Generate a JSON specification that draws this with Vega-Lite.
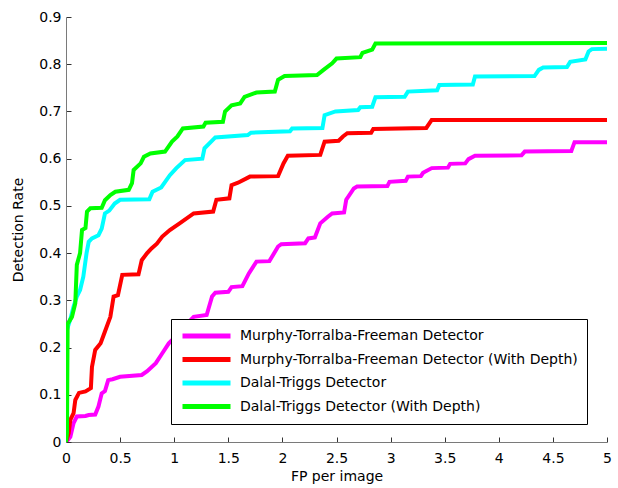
{
  "$schema": "https://vega.github.io/schema/vega-lite/v6.json",
  "width": 541,
  "height": 425,
  "autosize": "none",
  "padding": {"left": 66, "top": 17, "right": 11, "bottom": 46},
  "background": "white",
  "config": {
    "view": {"stroke": null},
    "font": "DejaVu Sans"
  },
  "datasets": {
    "curves": [
      {"s": "Murphy-Torralba-Freeman Detector", "x": 0, "y": 0},
      {"s": "Murphy-Torralba-Freeman Detector", "x": 0.02, "y": 0.005},
      {"s": "Murphy-Torralba-Freeman Detector", "x": 0.04, "y": 0.011},
      {"s": "Murphy-Torralba-Freeman Detector", "x": 0.07, "y": 0.04},
      {"s": "Murphy-Torralba-Freeman Detector", "x": 0.10, "y": 0.054},
      {"s": "Murphy-Torralba-Freeman Detector", "x": 0.18, "y": 0.055},
      {"s": "Murphy-Torralba-Freeman Detector", "x": 0.21, "y": 0.057},
      {"s": "Murphy-Torralba-Freeman Detector", "x": 0.27, "y": 0.058},
      {"s": "Murphy-Torralba-Freeman Detector", "x": 0.30, "y": 0.075},
      {"s": "Murphy-Torralba-Freeman Detector", "x": 0.33, "y": 0.103},
      {"s": "Murphy-Torralba-Freeman Detector", "x": 0.36, "y": 0.108},
      {"s": "Murphy-Torralba-Freeman Detector", "x": 0.39, "y": 0.131},
      {"s": "Murphy-Torralba-Freeman Detector", "x": 0.43, "y": 0.133},
      {"s": "Murphy-Torralba-Freeman Detector", "x": 0.50, "y": 0.138},
      {"s": "Murphy-Torralba-Freeman Detector", "x": 0.70, "y": 0.142},
      {"s": "Murphy-Torralba-Freeman Detector", "x": 0.75, "y": 0.15},
      {"s": "Murphy-Torralba-Freeman Detector", "x": 0.83, "y": 0.167},
      {"s": "Murphy-Torralba-Freeman Detector", "x": 0.89, "y": 0.188},
      {"s": "Murphy-Torralba-Freeman Detector", "x": 0.95, "y": 0.209},
      {"s": "Murphy-Torralba-Freeman Detector", "x": 1.0, "y": 0.22},
      {"s": "Murphy-Torralba-Freeman Detector", "x": 1.08, "y": 0.235},
      {"s": "Murphy-Torralba-Freeman Detector", "x": 1.15, "y": 0.258},
      {"s": "Murphy-Torralba-Freeman Detector", "x": 1.18, "y": 0.265},
      {"s": "Murphy-Torralba-Freeman Detector", "x": 1.30, "y": 0.269},
      {"s": "Murphy-Torralba-Freeman Detector", "x": 1.35, "y": 0.308},
      {"s": "Murphy-Torralba-Freeman Detector", "x": 1.38, "y": 0.316},
      {"s": "Murphy-Torralba-Freeman Detector", "x": 1.50, "y": 0.318},
      {"s": "Murphy-Torralba-Freeman Detector", "x": 1.53, "y": 0.328},
      {"s": "Murphy-Torralba-Freeman Detector", "x": 1.63, "y": 0.33},
      {"s": "Murphy-Torralba-Freeman Detector", "x": 1.69, "y": 0.357},
      {"s": "Murphy-Torralba-Freeman Detector", "x": 1.76, "y": 0.382},
      {"s": "Murphy-Torralba-Freeman Detector", "x": 1.88, "y": 0.383},
      {"s": "Murphy-Torralba-Freeman Detector", "x": 1.96, "y": 0.414},
      {"s": "Murphy-Torralba-Freeman Detector", "x": 1.99, "y": 0.419},
      {"s": "Murphy-Torralba-Freeman Detector", "x": 2.21, "y": 0.421},
      {"s": "Murphy-Torralba-Freeman Detector", "x": 2.24, "y": 0.431},
      {"s": "Murphy-Torralba-Freeman Detector", "x": 2.30, "y": 0.433},
      {"s": "Murphy-Torralba-Freeman Detector", "x": 2.35, "y": 0.463},
      {"s": "Murphy-Torralba-Freeman Detector", "x": 2.42, "y": 0.477},
      {"s": "Murphy-Torralba-Freeman Detector", "x": 2.46, "y": 0.484},
      {"s": "Murphy-Torralba-Freeman Detector", "x": 2.57, "y": 0.486},
      {"s": "Murphy-Torralba-Freeman Detector", "x": 2.59, "y": 0.513},
      {"s": "Murphy-Torralba-Freeman Detector", "x": 2.66, "y": 0.537},
      {"s": "Murphy-Torralba-Freeman Detector", "x": 2.69, "y": 0.541},
      {"s": "Murphy-Torralba-Freeman Detector", "x": 2.97, "y": 0.542},
      {"s": "Murphy-Torralba-Freeman Detector", "x": 2.99, "y": 0.551},
      {"s": "Murphy-Torralba-Freeman Detector", "x": 3.14, "y": 0.553},
      {"s": "Murphy-Torralba-Freeman Detector", "x": 3.16, "y": 0.562},
      {"s": "Murphy-Torralba-Freeman Detector", "x": 3.28, "y": 0.563},
      {"s": "Murphy-Torralba-Freeman Detector", "x": 3.30, "y": 0.570},
      {"s": "Murphy-Torralba-Freeman Detector", "x": 3.38, "y": 0.58},
      {"s": "Murphy-Torralba-Freeman Detector", "x": 3.53, "y": 0.581},
      {"s": "Murphy-Torralba-Freeman Detector", "x": 3.55, "y": 0.589},
      {"s": "Murphy-Torralba-Freeman Detector", "x": 3.69, "y": 0.59},
      {"s": "Murphy-Torralba-Freeman Detector", "x": 3.72, "y": 0.599},
      {"s": "Murphy-Torralba-Freeman Detector", "x": 3.78, "y": 0.606},
      {"s": "Murphy-Torralba-Freeman Detector", "x": 4.21, "y": 0.607},
      {"s": "Murphy-Torralba-Freeman Detector", "x": 4.24, "y": 0.615},
      {"s": "Murphy-Torralba-Freeman Detector", "x": 4.67, "y": 0.616},
      {"s": "Murphy-Torralba-Freeman Detector", "x": 4.70, "y": 0.635},
      {"s": "Murphy-Torralba-Freeman Detector", "x": 5, "y": 0.635},

      {"s": "Murphy-Torralba-Freeman Detector (With Depth)", "x": 0, "y": 0},
      {"s": "Murphy-Torralba-Freeman Detector (With Depth)", "x": 0.025, "y": 0.019},
      {"s": "Murphy-Torralba-Freeman Detector (With Depth)", "x": 0.04, "y": 0.047},
      {"s": "Murphy-Torralba-Freeman Detector (With Depth)", "x": 0.07, "y": 0.061},
      {"s": "Murphy-Torralba-Freeman Detector (With Depth)", "x": 0.086, "y": 0.089},
      {"s": "Murphy-Torralba-Freeman Detector (With Depth)", "x": 0.12, "y": 0.104},
      {"s": "Murphy-Torralba-Freeman Detector (With Depth)", "x": 0.18, "y": 0.107},
      {"s": "Murphy-Torralba-Freeman Detector (With Depth)", "x": 0.23, "y": 0.114},
      {"s": "Murphy-Torralba-Freeman Detector (With Depth)", "x": 0.24, "y": 0.159},
      {"s": "Murphy-Torralba-Freeman Detector (With Depth)", "x": 0.27, "y": 0.195},
      {"s": "Murphy-Torralba-Freeman Detector (With Depth)", "x": 0.32, "y": 0.209},
      {"s": "Murphy-Torralba-Freeman Detector (With Depth)", "x": 0.36, "y": 0.234},
      {"s": "Murphy-Torralba-Freeman Detector (With Depth)", "x": 0.41, "y": 0.265},
      {"s": "Murphy-Torralba-Freeman Detector (With Depth)", "x": 0.44, "y": 0.308},
      {"s": "Murphy-Torralba-Freeman Detector (With Depth)", "x": 0.48, "y": 0.311},
      {"s": "Murphy-Torralba-Freeman Detector (With Depth)", "x": 0.52, "y": 0.354},
      {"s": "Murphy-Torralba-Freeman Detector (With Depth)", "x": 0.67, "y": 0.355},
      {"s": "Murphy-Torralba-Freeman Detector (With Depth)", "x": 0.70, "y": 0.385},
      {"s": "Murphy-Torralba-Freeman Detector (With Depth)", "x": 0.75, "y": 0.40},
      {"s": "Murphy-Torralba-Freeman Detector (With Depth)", "x": 0.79, "y": 0.41},
      {"s": "Murphy-Torralba-Freeman Detector (With Depth)", "x": 0.84, "y": 0.42},
      {"s": "Murphy-Torralba-Freeman Detector (With Depth)", "x": 0.89, "y": 0.435},
      {"s": "Murphy-Torralba-Freeman Detector (With Depth)", "x": 0.96, "y": 0.449},
      {"s": "Murphy-Torralba-Freeman Detector (With Depth)", "x": 1.05, "y": 0.463},
      {"s": "Murphy-Torralba-Freeman Detector (With Depth)", "x": 1.18, "y": 0.484},
      {"s": "Murphy-Torralba-Freeman Detector (With Depth)", "x": 1.36, "y": 0.488},
      {"s": "Murphy-Torralba-Freeman Detector (With Depth)", "x": 1.39, "y": 0.513},
      {"s": "Murphy-Torralba-Freeman Detector (With Depth)", "x": 1.51, "y": 0.516},
      {"s": "Murphy-Torralba-Freeman Detector (With Depth)", "x": 1.53, "y": 0.544},
      {"s": "Murphy-Torralba-Freeman Detector (With Depth)", "x": 1.59, "y": 0.549},
      {"s": "Murphy-Torralba-Freeman Detector (With Depth)", "x": 1.70, "y": 0.562},
      {"s": "Murphy-Torralba-Freeman Detector (With Depth)", "x": 1.96, "y": 0.563},
      {"s": "Murphy-Torralba-Freeman Detector (With Depth)", "x": 2.01, "y": 0.59},
      {"s": "Murphy-Torralba-Freeman Detector (With Depth)", "x": 2.05, "y": 0.606},
      {"s": "Murphy-Torralba-Freeman Detector (With Depth)", "x": 2.35, "y": 0.608},
      {"s": "Murphy-Torralba-Freeman Detector (With Depth)", "x": 2.39, "y": 0.636},
      {"s": "Murphy-Torralba-Freeman Detector (With Depth)", "x": 2.52, "y": 0.638},
      {"s": "Murphy-Torralba-Freeman Detector (With Depth)", "x": 2.56, "y": 0.647},
      {"s": "Murphy-Torralba-Freeman Detector (With Depth)", "x": 2.60, "y": 0.654},
      {"s": "Murphy-Torralba-Freeman Detector (With Depth)", "x": 2.82, "y": 0.655},
      {"s": "Murphy-Torralba-Freeman Detector (With Depth)", "x": 2.84, "y": 0.663},
      {"s": "Murphy-Torralba-Freeman Detector (With Depth)", "x": 3.33, "y": 0.665},
      {"s": "Murphy-Torralba-Freeman Detector (With Depth)", "x": 3.38, "y": 0.682},
      {"s": "Murphy-Torralba-Freeman Detector (With Depth)", "x": 5, "y": 0.682},

      {"s": "Dalal-Triggs Detector", "x": 0, "y": 0},
      {"s": "Dalal-Triggs Detector", "x": 0.008, "y": 0.237},
      {"s": "Dalal-Triggs Detector", "x": 0.04, "y": 0.26},
      {"s": "Dalal-Triggs Detector", "x": 0.07, "y": 0.287},
      {"s": "Dalal-Triggs Detector", "x": 0.10, "y": 0.308},
      {"s": "Dalal-Triggs Detector", "x": 0.13, "y": 0.322},
      {"s": "Dalal-Triggs Detector", "x": 0.16, "y": 0.35},
      {"s": "Dalal-Triggs Detector", "x": 0.19, "y": 0.40},
      {"s": "Dalal-Triggs Detector", "x": 0.21, "y": 0.424},
      {"s": "Dalal-Triggs Detector", "x": 0.24, "y": 0.431},
      {"s": "Dalal-Triggs Detector", "x": 0.30, "y": 0.438},
      {"s": "Dalal-Triggs Detector", "x": 0.33, "y": 0.452},
      {"s": "Dalal-Triggs Detector", "x": 0.36, "y": 0.484},
      {"s": "Dalal-Triggs Detector", "x": 0.40, "y": 0.49},
      {"s": "Dalal-Triggs Detector", "x": 0.45, "y": 0.505},
      {"s": "Dalal-Triggs Detector", "x": 0.50, "y": 0.513},
      {"s": "Dalal-Triggs Detector", "x": 0.77, "y": 0.514},
      {"s": "Dalal-Triggs Detector", "x": 0.80, "y": 0.53},
      {"s": "Dalal-Triggs Detector", "x": 0.88, "y": 0.539},
      {"s": "Dalal-Triggs Detector", "x": 0.96, "y": 0.565},
      {"s": "Dalal-Triggs Detector", "x": 1.02, "y": 0.58},
      {"s": "Dalal-Triggs Detector", "x": 1.10, "y": 0.597},
      {"s": "Dalal-Triggs Detector", "x": 1.26, "y": 0.6},
      {"s": "Dalal-Triggs Detector", "x": 1.28, "y": 0.622},
      {"s": "Dalal-Triggs Detector", "x": 1.38, "y": 0.645},
      {"s": "Dalal-Triggs Detector", "x": 1.68, "y": 0.65},
      {"s": "Dalal-Triggs Detector", "x": 1.71, "y": 0.655},
      {"s": "Dalal-Triggs Detector", "x": 2.07, "y": 0.658},
      {"s": "Dalal-Triggs Detector", "x": 2.09, "y": 0.664},
      {"s": "Dalal-Triggs Detector", "x": 2.37, "y": 0.665},
      {"s": "Dalal-Triggs Detector", "x": 2.39, "y": 0.692},
      {"s": "Dalal-Triggs Detector", "x": 2.49, "y": 0.70},
      {"s": "Dalal-Triggs Detector", "x": 2.70, "y": 0.703},
      {"s": "Dalal-Triggs Detector", "x": 2.72, "y": 0.709},
      {"s": "Dalal-Triggs Detector", "x": 2.83, "y": 0.71},
      {"s": "Dalal-Triggs Detector", "x": 2.86, "y": 0.73},
      {"s": "Dalal-Triggs Detector", "x": 3.13, "y": 0.731},
      {"s": "Dalal-Triggs Detector", "x": 3.16, "y": 0.742},
      {"s": "Dalal-Triggs Detector", "x": 3.43, "y": 0.745},
      {"s": "Dalal-Triggs Detector", "x": 3.45, "y": 0.756},
      {"s": "Dalal-Triggs Detector", "x": 3.76, "y": 0.757},
      {"s": "Dalal-Triggs Detector", "x": 3.78, "y": 0.774},
      {"s": "Dalal-Triggs Detector", "x": 4.33, "y": 0.775},
      {"s": "Dalal-Triggs Detector", "x": 4.37, "y": 0.788},
      {"s": "Dalal-Triggs Detector", "x": 4.41, "y": 0.793},
      {"s": "Dalal-Triggs Detector", "x": 4.63, "y": 0.794},
      {"s": "Dalal-Triggs Detector", "x": 4.66, "y": 0.805},
      {"s": "Dalal-Triggs Detector", "x": 4.80, "y": 0.81},
      {"s": "Dalal-Triggs Detector", "x": 4.83, "y": 0.827},
      {"s": "Dalal-Triggs Detector", "x": 4.86, "y": 0.832},
      {"s": "Dalal-Triggs Detector", "x": 5, "y": 0.833},

      {"s": "Dalal-Triggs Detector (With Depth)", "x": 0, "y": 0},
      {"s": "Dalal-Triggs Detector (With Depth)", "x": 0.009, "y": 0.02},
      {"s": "Dalal-Triggs Detector (With Depth)", "x": 0.015, "y": 0.25},
      {"s": "Dalal-Triggs Detector (With Depth)", "x": 0.055, "y": 0.265},
      {"s": "Dalal-Triggs Detector (With Depth)", "x": 0.086, "y": 0.294},
      {"s": "Dalal-Triggs Detector (With Depth)", "x": 0.10, "y": 0.375},
      {"s": "Dalal-Triggs Detector (With Depth)", "x": 0.13, "y": 0.40},
      {"s": "Dalal-Triggs Detector (With Depth)", "x": 0.148, "y": 0.449},
      {"s": "Dalal-Triggs Detector (With Depth)", "x": 0.18, "y": 0.453},
      {"s": "Dalal-Triggs Detector (With Depth)", "x": 0.194, "y": 0.488},
      {"s": "Dalal-Triggs Detector (With Depth)", "x": 0.225, "y": 0.495},
      {"s": "Dalal-Triggs Detector (With Depth)", "x": 0.33, "y": 0.496},
      {"s": "Dalal-Triggs Detector (With Depth)", "x": 0.36, "y": 0.512},
      {"s": "Dalal-Triggs Detector (With Depth)", "x": 0.41, "y": 0.523},
      {"s": "Dalal-Triggs Detector (With Depth)", "x": 0.456, "y": 0.53},
      {"s": "Dalal-Triggs Detector (With Depth)", "x": 0.58, "y": 0.534},
      {"s": "Dalal-Triggs Detector (With Depth)", "x": 0.61, "y": 0.548},
      {"s": "Dalal-Triggs Detector (With Depth)", "x": 0.625, "y": 0.576},
      {"s": "Dalal-Triggs Detector (With Depth)", "x": 0.69, "y": 0.59},
      {"s": "Dalal-Triggs Detector (With Depth)", "x": 0.72, "y": 0.604},
      {"s": "Dalal-Triggs Detector (With Depth)", "x": 0.78, "y": 0.611},
      {"s": "Dalal-Triggs Detector (With Depth)", "x": 0.915, "y": 0.615},
      {"s": "Dalal-Triggs Detector (With Depth)", "x": 0.98, "y": 0.636},
      {"s": "Dalal-Triggs Detector (With Depth)", "x": 1.03, "y": 0.647},
      {"s": "Dalal-Triggs Detector (With Depth)", "x": 1.08, "y": 0.664},
      {"s": "Dalal-Triggs Detector (With Depth)", "x": 1.27, "y": 0.668},
      {"s": "Dalal-Triggs Detector (With Depth)", "x": 1.29, "y": 0.676},
      {"s": "Dalal-Triggs Detector (With Depth)", "x": 1.45, "y": 0.678},
      {"s": "Dalal-Triggs Detector (With Depth)", "x": 1.47, "y": 0.70},
      {"s": "Dalal-Triggs Detector (With Depth)", "x": 1.53, "y": 0.713},
      {"s": "Dalal-Triggs Detector (With Depth)", "x": 1.61, "y": 0.717},
      {"s": "Dalal-Triggs Detector (With Depth)", "x": 1.65, "y": 0.731},
      {"s": "Dalal-Triggs Detector (With Depth)", "x": 1.76, "y": 0.74},
      {"s": "Dalal-Triggs Detector (With Depth)", "x": 1.93, "y": 0.742},
      {"s": "Dalal-Triggs Detector (With Depth)", "x": 1.96, "y": 0.767},
      {"s": "Dalal-Triggs Detector (With Depth)", "x": 2.02, "y": 0.775},
      {"s": "Dalal-Triggs Detector (With Depth)", "x": 2.32, "y": 0.777},
      {"s": "Dalal-Triggs Detector (With Depth)", "x": 2.38, "y": 0.788},
      {"s": "Dalal-Triggs Detector (With Depth)", "x": 2.46, "y": 0.802},
      {"s": "Dalal-Triggs Detector (With Depth)", "x": 2.50, "y": 0.812},
      {"s": "Dalal-Triggs Detector (With Depth)", "x": 2.72, "y": 0.815},
      {"s": "Dalal-Triggs Detector (With Depth)", "x": 2.74, "y": 0.824},
      {"s": "Dalal-Triggs Detector (With Depth)", "x": 2.83, "y": 0.831},
      {"s": "Dalal-Triggs Detector (With Depth)", "x": 2.86, "y": 0.844},
      {"s": "Dalal-Triggs Detector (With Depth)", "x": 5, "y": 0.845}
    ]
  },
  "data": {"name": "curves"},
  "mark": {"type": "line", "strokeWidth": 4, "strokeJoin": "miter", "clip": true},
  "encoding": {
    "x": {
      "field": "x", "type": "quantitative",
      "scale": {"domain": [0, 5], "nice": false, "zero": false},
      "axis": {
        "title": "FP per image", "grid": false, "values": [0, 0.5, 1, 1.5, 2, 2.5, 3, 3.5, 4, 4.5, 5],
        "format": "~g", "tickSize": -5, "labelPadding": 14, "labelFontSize": 14, "labelColor": "#000",
        "titleFontSize": 14, "titleFontWeight": "normal", "titleColor": "#000", "titlePadding": 4,
        "domainColor": "#7a7a7a", "tickColor": "#333", "labelFlush": false
      }
    },
    "y": {
      "field": "y", "type": "quantitative",
      "scale": {"domain": [0, 0.9], "nice": false, "zero": false},
      "axis": {
        "title": "Detection Rate", "grid": false, "values": [0, 0.1, 0.2, 0.3, 0.4, 0.5, 0.6, 0.7, 0.8, 0.9],
        "format": "~g", "tickSize": -5, "labelPadding": 10, "labelFontSize": 14, "labelColor": "#000",
        "titleFontSize": 14, "titleFontWeight": "normal", "titleColor": "#000", "titlePadding": 13,
        "domainColor": "#7a7a7a", "tickColor": "#333", "labelFlush": false
      }
    },
    "color": {
      "field": "s", "type": "nominal",
      "scale": {
        "domain": ["Murphy-Torralba-Freeman Detector", "Murphy-Torralba-Freeman Detector (With Depth)", "Dalal-Triggs Detector", "Dalal-Triggs Detector (With Depth)"],
        "range": ["#ff00ff", "#ff0000", "#00ffff", "#00ff00"]
      },
      "legend": {
        "title": null, "orient": "none", "legendX": 105, "legendY": 302,
        "symbolType": "stroke", "symbolSize": 2304, "symbolStrokeWidth": 5,
        "clipHeight": 16, "rowPadding": 7.5, "labelFontSize": 14, "labelColor": "#000",
        "labelOffset": 7, "labelLimit": 400, "padding": 9,
        "strokeColor": "#000", "fillColor": "#fff", "cornerRadius": 0
      }
    }
  }
}
